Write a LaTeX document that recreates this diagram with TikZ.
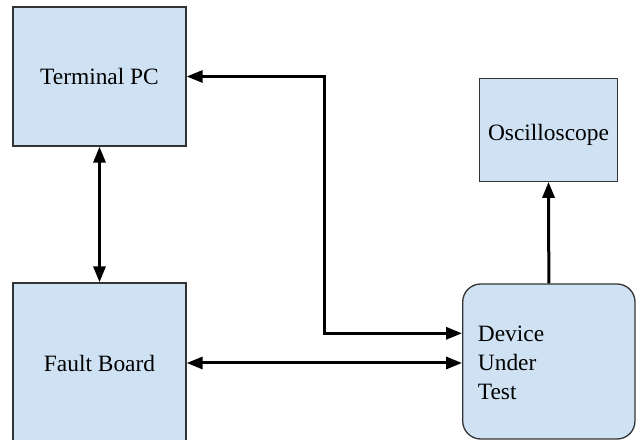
\documentclass[tikz,border=0pt]{standalone}
\usepackage{fontspec}
\setmainfont{Liberation Serif}
\usetikzlibrary{arrows.meta,calc}
\definecolor{boxfill}{HTML}{CFE2F3}
\definecolor{boxline}{HTML}{333333}
\begin{document}
\begin{tikzpicture}[x=1bp,y=1bp,
  block/.style={draw=boxline, fill=boxfill, line width=1.3bp, inner sep=0pt,
    font=\fontsize{23.5}{29.3}\selectfont},
  link/.style={line width=3bp, draw=black,
    arrows={-Triangle[length=16bp,width=12bp]}},
  biglink/.style={line width=3bp, draw=black,
    arrows={Triangle[length=16bp,width=12bp]-Triangle[length=16bp,width=12bp]}}]
  \useasboundingbox (0,0) rectangle (638,440);

  % blocks
  \node[block, minimum width=173bp, minimum height=139bp] (tpc) at (99.5,363.5) {Terminal PC};
  \node[block, minimum width=173bp, minimum height=160bp] (fb) at (99.5,77) {Fault Board};
  \node[block, minimum width=138.4bp, minimum height=103bp, text height=21.4bp, text depth=0pt]
    (osc) at (548.5,310.3) {Oscilloscope};
  \node[block, minimum width=172.3bp, minimum height=155bp, rounded corners=18bp] (dut) at (548.85,78.5) {};
  \node[font=\fontsize{23.5}{29.3}\selectfont, align=left, anchor=west, inner sep=0pt]
    (dutlabel) at (477.7,77.1) {Device\\Under\\Test};

  % connection points
  \coordinate (dutin) at ([yshift=28.2bp]dut.west);
  \coordinate (bend) at (324,363.5);

  % connectors
  \draw[biglink] (tpc.south) -- (fb.north);
  \draw[biglink] (tpc.east) -- (bend) |- (dutin);
  \draw[biglink] (fb.east) -- (fb.east -| dut.west);
  \draw[link] (dut.north) -- (osc.south);
\end{tikzpicture}
\end{document}
